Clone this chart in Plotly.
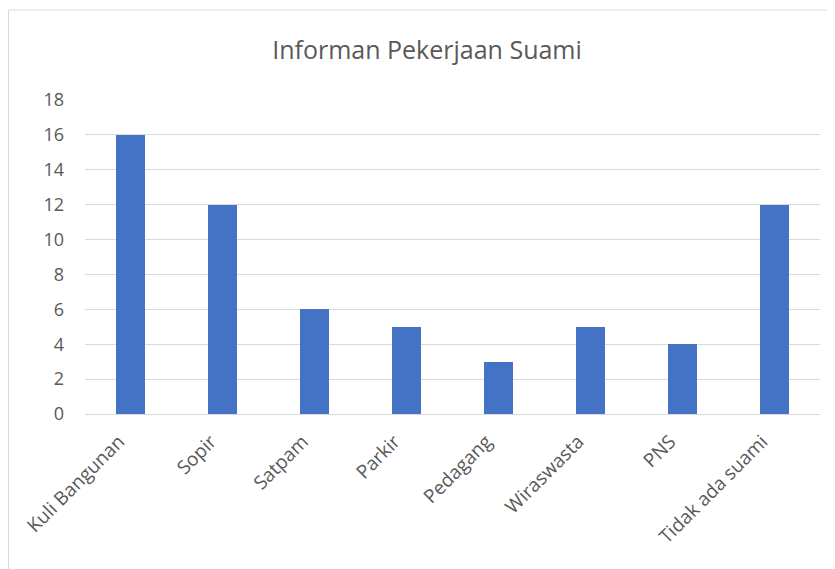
import plotly.graph_objects as go

categories = ["Kuli Bangunan", "Sopir", "Satpam", "Parkir", "Pedagang", "Wiraswasta", "PNS", "Tidak ada suami"]
values = [16, 12, 6, 5, 3, 5, 4, 12]
y_ticks = [0, 2, 4, 6, 8, 10, 12, 14, 16, 18]

fig = go.Figure(go.Bar(x=categories, y=values, marker=dict(color="#4472C4", line=dict(width=0)), width=0.316))

font_family = "Open Sans, Liberation Sans, sans-serif"
W, H = 827, 561
L, T, R, B = 77, 92, 15, 155
pw, ph = W - L - R, H - T - B
fig.update_layout(
    width=W, height=H,
    margin=dict(l=L, r=R, t=T, b=B),
    paper_bgcolor="white", plot_bgcolor="white",
    title=dict(text="Informan Pekerjaan Suami", x=(427 - 8) / W, xanchor="center", y=1 - 42 / H, yanchor="middle",
               font=dict(family=font_family, size=25, color="#595959")),
    showlegend=False,
    bargap=0,
)
fig.update_yaxes(range=[0, 18], tickvals=y_ticks, showgrid=True, gridcolor="#d9d9d9", gridwidth=1,
                 zeroline=False, showline=False, ticks="", ticklabelstandoff=20,
                 tickfont=dict(family=font_family, size=18, color="#595959"))
fig.update_xaxes(tickangle=-45, showline=True, linecolor="#d9d9d9", linewidth=1, ticks="", ticklabelstandoff=8,
                 ticklabelshift=-12,
                 tickfont=dict(family=font_family, size=19, color="#595959"))
fig.add_shape(type="rect", xref="paper", yref="paper", x0=(0.5 - L) / pw, x1=(W + 10 - L) / pw,
              y0=-(B + 20) / ph, y1=(ph + T - 2) / ph, line=dict(color="#d9d9d9", width=1),
              fillcolor="rgba(0,0,0,0)", layer="below")
fig.write_html("out.html")
